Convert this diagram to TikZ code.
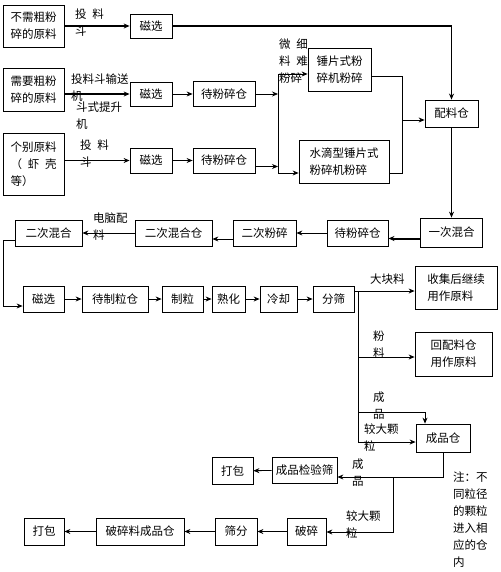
\documentclass[tikz,border=0pt]{standalone}
\usepackage{fontspec}
\setmainfont{Noto Sans CJK SC}
\usepackage{tikz}
\usetikzlibrary{arrows.meta,positioning}

\begin{document}
\begin{tikzpicture}[
    x=1pt, y=-1pt,
    box/.style={rectangle, draw, line width=0.8pt, align=center, inner sep=0pt, font=\fontsize{11.5}{17}\selectfont},
    sz/.style 2 args={minimum width=#1pt, minimum height=#2pt},
    lbl/.style={align=left, inner sep=0pt, anchor=north west, font=\fontsize{11.5}{17}\selectfont},
    arrow/.style={-{Stealth[length=6pt,width=5pt]}, line width=0.8pt},
    feed/.style={arrow, line width=1.4pt}
]
    \useasboundingbox (0,0) rectangle (500,572);

    % raw materials and magnetic separation
    \node[box, sz={61}{42}, align=left] (rawA) at (33.5,26) {不需粗粉\\碎的原料};
    \node[box, sz={61}{43}, align=left] (rawB) at (33.5,90) {需要粗粉\\碎的原料};
    \node[box, sz={61}{62}, align=left] (rawC) at (33.5,164) {个别原料\\\makebox[46pt][l]{（\hfill 虾\hfill 壳}\\等）};
    \node[box, sz={42}{24}] (magA) at (151,26) {磁选};
    \node[box, sz={42}{24}] (magB) at (151,94) {磁选};
    \node[box, sz={42}{25}] (magC) at (151,160.5) {磁选};
    \node[box, sz={62}{25}] (waitA) at (224,94) {待粉碎仓};
    \node[box, sz={62}{25}] (waitB) at (224,160.5) {待粉碎仓};
    \node[box, sz={63}{43}, align=left] (hammer) at (339.5,69.5) {锤片式粉\\碎机粉碎};
    \node[box, sz={90}{43}, align=left] (drop) at (344,161.5) {水滴型锤片式\\粉碎机粉碎};
    \node[box, sz={53}{27}] (batch) at (451.5,113.5) {配料仓};

    \node[lbl] (lblA) at (75,9) {投\enspace 料\\斗};
    \node[lbl] (lblB1) at (71,74) {投料斗输送\\机};
    \node[lbl] (lblB2) at (76,102) {斗式提升\\机};
    \node[lbl] (lblC) at (80,140) {投\enspace 料\\斗};
    \node[lbl] (lblFine) at (279,39) {微\enspace 细\\料\enspace 难\\粉碎};

    \draw[feed] (rawA) -- (magA);
    \draw[feed] (rawB.east |- magB) -- (magB);
    \draw[feed] (rawC.east |- magC) -- (magC);
    \draw[arrow] (magB) -- (waitA);
    \draw[arrow] (magC) -- (waitB);
    \draw[feed] (magA) -- (magA -| batch) -- (batch);

    \coordinate (splitT) at (278,74);
    \coordinate (splitB) at (278,173);
    \draw[line width=0.8pt] (splitT) -- (splitB);
    \draw[arrow] (waitA) -- (waitA -| splitT);
    \draw[arrow] ([yshift=-6pt]waitB.east) -- ([yshift=-6pt]waitB.east -| splitT);
    \draw[arrow] (splitT) -- (splitT -| hammer.west);
    \draw[arrow] (splitB) -- (splitB -| drop.west);

    \coordinate (mergeT) at (402,76);
    \coordinate (mergeB) at (402,173);
    \coordinate (mergeM) at (402,120);
    \draw[line width=0.8pt] (hammer.east |- mergeT) -- (mergeT) -- (mergeB) -- (drop.east |- mergeB);
    \draw[arrow] (mergeM) -- (mergeM -| batch.west);

    % mixing and second grinding
    \node[box, sz={62}{29}] (mixA) at (451.5,232.5) {一次混合};
    \node[box, sz={61}{26}] (waitC) at (357.5,233) {待粉碎仓};
    \node[box, sz={63}{26}] (grindB) at (264.5,233) {二次粉碎};
    \node[box, sz={77}{26}] (mixBin) at (173.5,233) {二次混合仓};
    \node[box, sz={67}{26}] (mixB) at (48.5,233) {二次混合};
    \node[lbl] (lblPc) at (93,213) {电脑配\\料};

    \draw[arrow] (batch) -- (mixA);
    \draw[arrow, line width=2pt] ([yshift=-6pt]mixA.west) -- ([yshift=-6pt]mixA.west -| waitC.east);
    \draw[arrow] (waitC) -- (grindB);
    \draw[arrow] ([yshift=-6pt]grindB.west) -- ([yshift=-6pt]grindB.west -| mixBin.east);
    \draw[arrow] (mixBin) -- (mixB);

    % pelleting line
    \node[box, sz={41}{26}] (magD) at (43.5,299) {磁选};
    \node[box, sz={66}{26}] (pelBin) at (115,299) {待制粒仓};
    \node[box, sz={41}{26}] (pellet) at (182.5,299) {制粒};
    \node[box, sz={33}{26}] (cure) at (228.5,299) {熟化};
    \node[box, sz={37}{26}] (cool) at (278.5,299) {冷却};
    \node[box, sz={41}{26}] (sieve) at (333.5,299) {分筛};

    \coordinate (loopL) at (3,240);
    \draw[arrow] ([yshift=-7pt]mixB.west) -- (loopL) |- ([yshift=-7pt]magD.west);
    \draw[arrow] (magD) -- (pelBin);
    \draw[arrow] (pelBin) -- (pellet);
    \draw[arrow] (pellet) -- (cure);
    \draw[arrow] (cure) -- (cool);
    \draw[arrow] (cool) -- (sieve);

    % sieve outputs
    \node[box, sz={82}{43}, align=left] (collect) at (456,287.5) {收集后继续\\用作原料};
    \node[box, sz={77}{44}, align=left] (back) at (453.5,354) {回配料仓\\用作原料};
    \node[box, sz={54}{28}] (prodBin) at (443,438) {成品仓};
    \node[lbl] (lblBig) at (370,274) {大块料};
    \node[lbl] (lblPow) at (373,331) {粉\\料};
    \node[lbl] (lblProdA) at (373,392) {成\\品};
    \node[lbl] (lblLargeA) at (364,424) {较大颗\\粒};

    \coordinate (busT) at (358,291);
    \coordinate (busP) at (358,357);
    \coordinate (busC) at (358,412);
    \coordinate (busB) at (358,442);
    \coordinate (prodIn) at (425,412);
    \draw[line width=0.8pt] (sieve.east |- busT) -- (busT) -- (busB);
    \draw[arrow] (busT) -- (busT -| collect.west);
    \draw[arrow] (busP) -- (busP -| back.west);
    \draw[arrow] (busC) -- (prodIn) -- (prodIn |- prodBin.north);
    \draw[arrow] (busB) -- (busB -| prodBin.west);

    % finished product and crushing
    \node[box, sz={65}{26}] (check) at (304.5,470) {成品检验筛};
    \node[box, sz={41}{27}] (packA) at (232.5,471) {打包};
    \node[box, sz={39}{27}] (crush) at (306.5,531.5) {破碎};
    \node[box, sz={42}{27}] (sieveB) at (236,531.5) {筛分};
    \node[box, sz={88}{27}] (crushBin) at (140,531.5) {破碎料成品仓};
    \node[box, sz={40}{27}] (packB) at (44,531.5) {打包};
    \node[lbl] (lblProdB) at (352,459) {成\\品};
    \node[lbl] (lblLargeB) at (346,511) {较大颗\\粒};
    \node[lbl] (note) at (453,472) {注：不\\同粒径\\的颗粒\\进入相\\应的仓\\内};

    \coordinate (outJ) at (393,477);
    \coordinate (outP) at (393,532);
    \draw[arrow] (prodBin.south) -- (prodBin.south |- outJ) -- (outJ -| check.east);
    \draw[arrow] (outJ) -- (outP) -- (outP -| crush.east);
    \draw[arrow] (check) -- (packA);
    \draw[arrow] (crush) -- (sieveB);
    \draw[arrow] (sieveB) -- (crushBin);
    \draw[arrow] (crushBin) -- (packB);
\end{tikzpicture}
\end{document}
